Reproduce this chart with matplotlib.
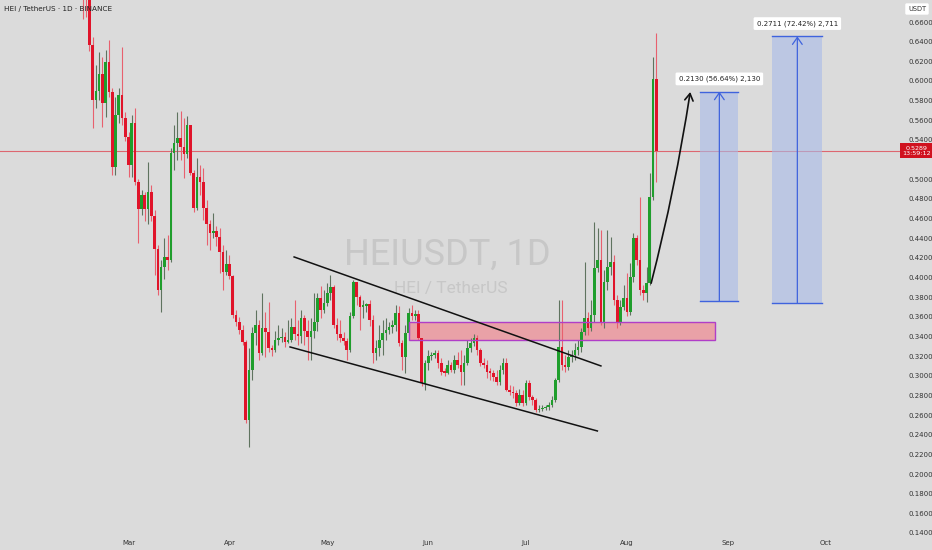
import numpy as np
import pandas as pd
import matplotlib
matplotlib.use('Agg')
import matplotlib.pyplot as plt
import matplotlib.dates as mdates
from matplotlib.patches import Rectangle, FancyArrowPatch

# daily candles HEI/USDT, Feb 15 - Aug 10 2025
first_open = 0.750
closes = [0.720, 0.700, 0.637, 0.581, 0.590, 0.607, 0.578, 0.619, 0.589, 0.512,
          0.565, 0.586, 0.562, 0.543, 0.514, 0.557, 0.497, 0.470, 0.484, 0.470,
          0.487, 0.463, 0.429, 0.387, 0.411, 0.421, 0.418, 0.527, 0.537, 0.542,
          0.533, 0.526, 0.555, 0.506, 0.471, 0.502, 0.497, 0.471, 0.454, 0.445,
          0.447, 0.441, 0.426, 0.406, 0.414, 0.402, 0.362, 0.355, 0.347, 0.334,
          0.255, 0.306, 0.344, 0.352, 0.323, 0.349, 0.345, 0.328, 0.326, 0.336,
          0.338, 0.339, 0.334, 0.336, 0.350, 0.342, 0.340, 0.359, 0.346, 0.339,
          0.346, 0.355, 0.379, 0.367, 0.374, 0.384, 0.390, 0.352, 0.342, 0.338,
          0.335, 0.326, 0.361, 0.395, 0.380, 0.370, 0.371, 0.373, 0.357, 0.323,
          0.328, 0.336, 0.344, 0.347, 0.350, 0.352, 0.364, 0.333, 0.319, 0.344,
          0.364, 0.361, 0.363, 0.338, 0.293, 0.313, 0.320, 0.321, 0.323, 0.313,
          0.304, 0.303, 0.311, 0.306, 0.316, 0.311, 0.304, 0.313, 0.328, 0.333,
          0.338, 0.326, 0.313, 0.311, 0.304, 0.303, 0.299, 0.294, 0.306, 0.313,
          0.286, 0.283, 0.282, 0.272, 0.280, 0.272, 0.293, 0.278, 0.275, 0.265,
          0.266, 0.267, 0.268, 0.270, 0.275, 0.296, 0.329, 0.311, 0.309, 0.319,
          0.321, 0.326, 0.329, 0.345, 0.359, 0.349, 0.362, 0.410, 0.418, 0.355,
          0.395, 0.411, 0.416, 0.377, 0.355, 0.370, 0.379, 0.365, 0.400, 0.440,
          0.418, 0.387, 0.384, 0.394, 0.482, 0.602, 0.5289]
highs = [0.800, 0.760, 0.730, 0.645, 0.616, 0.629, 0.624, 0.632, 0.642, 0.593,
         0.584, 0.593, 0.635, 0.568, 0.548, 0.565, 0.572, 0.500, 0.489, 0.487,
         0.5175, 0.494, 0.469, 0.433, 0.418, 0.440, 0.443, 0.532, 0.555, 0.568,
         0.569, 0.562, 0.564, 0.555, 0.509, 0.522, 0.514, 0.511, 0.479, 0.458,
         0.466, 0.452, 0.450, 0.433, 0.428, 0.423, 0.403, 0.367, 0.360, 0.352,
         0.336, 0.328, 0.350, 0.367, 0.357, 0.384, 0.365, 0.375, 0.331, 0.346,
         0.352, 0.349, 0.345, 0.357, 0.359, 0.377, 0.357, 0.367, 0.362, 0.357,
         0.359, 0.384, 0.384, 0.391, 0.387, 0.394, 0.403, 0.392, 0.359, 0.357,
         0.345, 0.338, 0.365, 0.397, 0.394, 0.382, 0.377, 0.374, 0.377, 0.362,
         0.336, 0.352, 0.357, 0.359, 0.355, 0.357, 0.372, 0.371, 0.336, 0.352,
         0.369, 0.372, 0.367, 0.367, 0.338, 0.316, 0.326, 0.324, 0.326, 0.326,
         0.318, 0.308, 0.316, 0.314, 0.321, 0.324, 0.326, 0.321, 0.336, 0.338,
         0.343, 0.341, 0.328, 0.318, 0.316, 0.308, 0.306, 0.306, 0.311, 0.318,
         0.318, 0.291, 0.290, 0.286, 0.287, 0.286, 0.296, 0.296, 0.280, 0.277,
         0.270, 0.270, 0.270, 0.273, 0.279, 0.298, 0.377, 0.377, 0.321, 0.326,
         0.326, 0.333, 0.336, 0.349, 0.416, 0.365, 0.377, 0.456, 0.450, 0.448,
         0.408, 0.448, 0.441, 0.423, 0.382, 0.377, 0.392, 0.405, 0.415, 0.445,
         0.443, 0.482, 0.392, 0.411, 0.506, 0.624, 0.649]
lows = [0.663, 0.665, 0.630, 0.552, 0.572, 0.581, 0.553, 0.563, 0.584, 0.504,
        0.504, 0.557, 0.555, 0.539, 0.502, 0.502, 0.494, 0.435, 0.464, 0.457,
        0.454, 0.457, 0.4026, 0.382, 0.365, 0.398, 0.408, 0.416, 0.509, 0.520,
        0.520, 0.501, 0.522, 0.504, 0.467, 0.469, 0.484, 0.459, 0.433, 0.428,
        0.440, 0.432, 0.405, 0.387, 0.403, 0.398, 0.359, 0.351, 0.342, 0.331,
        0.252, 0.2275, 0.296, 0.331, 0.316, 0.321, 0.319, 0.324, 0.320, 0.324,
        0.331, 0.334, 0.329, 0.333, 0.334, 0.336, 0.331, 0.333, 0.331, 0.316,
        0.316, 0.338, 0.346, 0.359, 0.364, 0.371, 0.377, 0.349, 0.336, 0.334,
        0.331, 0.3164, 0.324, 0.359, 0.372, 0.347, 0.359, 0.365, 0.351, 0.313,
        0.316, 0.320, 0.321, 0.336, 0.343, 0.344, 0.346, 0.330, 0.306, 0.303,
        0.341, 0.357, 0.357, 0.336, 0.290, 0.285, 0.306, 0.316, 0.318, 0.308,
        0.301, 0.300, 0.302, 0.304, 0.303, 0.308, 0.2906, 0.2906, 0.311, 0.324,
        0.330, 0.321, 0.310, 0.308, 0.298, 0.296, 0.295, 0.291, 0.291, 0.302,
        0.284, 0.280, 0.277, 0.269, 0.270, 0.269, 0.270, 0.275, 0.270, 0.263,
        0.263, 0.264, 0.265, 0.265, 0.268, 0.273, 0.294, 0.306, 0.304, 0.306,
        0.314, 0.316, 0.321, 0.324, 0.341, 0.341, 0.346, 0.355, 0.406, 0.352,
        0.349, 0.387, 0.403, 0.372, 0.349, 0.352, 0.367, 0.361, 0.362, 0.395,
        0.413, 0.382, 0.377, 0.375, 0.392, 0.479, 0.497]
dates = pd.date_range('2025-02-15', periods=len(closes), freq='D')
opens = [first_open] + closes[:-1]

last_price = 0.5289
countdown = '13:59:12'

# drawings on the chart
zone_dates = ['2025-05-26 00:00', '2025-08-28 00:00']
zone_prices = [0.3364, 0.3547]
upper_line_dates = ['2025-04-20 20:00', '2025-07-24 00:00']
upper_line_prices = [0.4209, 0.3100]
lower_line_dates = ['2025-04-19 14:00', '2025-07-22 22:00']
lower_line_prices = [0.3293, 0.2438]
arrow_dates = ['2025-08-08 10:00', '2025-08-20 10:00']
arrow_prices = [0.3942, 0.5888]
targets = [
    {'start': '2025-08-23 12:00', 'end': '2025-09-04 05:00', 'low': 0.3761, 'high': 0.5891,
     'label': '0.2130 (56.64%) 2,130'},
    {'start': '2025-09-14 14:00', 'end': '2025-09-30 00:00', 'low': 0.3743, 'high': 0.6454,
     'label': '0.2711 (72.42%) 2,711'},
]

price_ticks = np.arange(0.14, 0.661, 0.02)
month_ticks = pd.date_range('2025-03-01', '2025-10-01', freq='MS')

bg = '#dbdbdb'
up_col, dn_col = '#1f9e2c', '#e0142a'
up_wick, dn_wick = '#5f735f', '#e8606e'


def dnum(s):
    return mdates.date2num(pd.Timestamp(s))


fig = plt.figure(figsize=(9.32, 5.5), dpi=100, facecolor=bg)
ax = fig.add_axes([0, 13 / 550, 900 / 932, 537 / 550], facecolor=bg)

xd = mdates.date2num(dates)
o = np.array(opens); c = np.array(closes)
h = np.array(highs); l = np.array(lows)
up = c >= o
ax.vlines(xd[up], l[up], h[up], color=up_wick, lw=0.8, zorder=3)
ax.vlines(xd[~up], l[~up], h[~up], color=dn_wick, lw=0.8, zorder=3)
body_lo = np.minimum(o, c)
body_h = np.maximum(np.abs(c - o), 0.0015)
ax.bar(xd, body_h, bottom=body_lo, width=0.8,
       color=np.where(up, up_col, dn_col), lw=0, zorder=4)

# watermark
ax.text(dnum('2025-06-07 00:00'), 0.4235, 'HEIUSDT, 1D', ha='center', va='center',
        fontsize=26, color='#c7c7c7', family='Roboto', zorder=1)
ax.text(dnum('2025-06-07 20:00'), 0.3885, 'HEI / TetherUS', ha='center',
        va='center', fontsize=12.5, color='#c7c7c7', family='Roboto', zorder=1)

# zone
zx = [dnum(s) for s in zone_dates]
ax.add_patch(Rectangle((zx[0], zone_prices[0]), zx[1] - zx[0], zone_prices[1] - zone_prices[0],
                       facecolor='#ee8e96', alpha=0.75, edgecolor='none', zorder=2))
ax.add_patch(Rectangle((zx[0], zone_prices[0]), zx[1] - zx[0], zone_prices[1] - zone_prices[0],
                       facecolor='none', edgecolor='#b03ec8', lw=1.0, zorder=5))

# wedge lines
ax.plot([dnum(s) for s in upper_line_dates], upper_line_prices, color='#111111', lw=1.1, zorder=6)
ax.plot([dnum(s) for s in lower_line_dates], lower_line_prices, color='#111111', lw=1.1, zorder=6)

# last price line
ax.axhline(last_price, color='#de4a55', lw=0.8, alpha=0.8, zorder=2)

# projection arrow
ap = [dnum(s) for s in arrow_dates]
ax.add_patch(FancyArrowPatch((ap[0], arrow_prices[0]), (ap[1], arrow_prices[1]),
                             arrowstyle='->,head_length=5,head_width=3', color='#111111', lw=1.2,
                             connectionstyle='arc3,rad=0.025', shrinkA=0, shrinkB=0, zorder=7))

# target boxes
for t in targets:
    x0 = dnum(t['start'])
    x1 = dnum(t['end'])
    ax.add_patch(Rectangle((x0, t['low']), x1 - x0, t['high'] - t['low'],
                           facecolor='#a8bbe9', alpha=0.6, edgecolor='none', zorder=2))
    ax.plot([x0, x1], [t['low'], t['low']], color='#3f63dd', lw=1.0, zorder=5)
    ax.plot([x0, x1], [t['high'], t['high']], color='#3f63dd', lw=1.0, zorder=5)
    xm = (x0 + x1) / 2
    ax.add_patch(FancyArrowPatch((xm, t['low']), (xm, t['high']),
                                 arrowstyle='->,head_length=5,head_width=3.5', color='#3f63dd',
                                 lw=0.9, shrinkA=0, shrinkB=0, zorder=5))
    ax.text(xm, t['high'] + 0.013, t['label'], ha='center', va='center', fontsize=5, color='#222222',
            zorder=8, bbox=dict(boxstyle='round,pad=0.45,rounding_size=0.2', fc='white', ec='none'))

ax.set_xlim(dnum('2025-03-01 00:00') - 128.5 / 3.258,
            dnum('2025-03-01 00:00') + (900 - 128.5) / 3.258)
ax.set_ylim(0.1359, 0.6824)

ax.yaxis.tick_right()
ax.set_yticks(price_ticks)
ax.set_yticklabels(['' if abs(p - 0.52) < 1e-6 else f'{p:.4f}' for p in price_ticks])
ax.tick_params(axis='y', length=0, pad=6, labelsize=5, labelcolor='#333333')
ax.set_xticks(mdates.date2num(month_ticks))
ax.set_xticklabels([d.strftime('%b') for d in month_ticks])
ax.tick_params(axis='x', length=0, pad=2, labelsize=5, labelcolor='#333333')
for s in ax.spines.values():
    s.set_visible(False)

# price tag and header
ax.text(1.0 + 17 / 900, last_price, f'{last_price:.4f}\n{countdown}', transform=ax.get_yaxis_transform(),
        ha='center', va='center', fontsize=4.6, color='white', linespacing=1.1, zorder=9,
        bbox=dict(boxstyle='square,pad=0.35', fc='#d0121f', ec='none'), clip_on=False)
fig.text(917 / 932, 1 - 9 / 550, 'USDT', ha='center', va='center', fontsize=4.8, color='#333333',
         bbox=dict(boxstyle='round,pad=0.4,rounding_size=0.2', fc='white', ec='none'))
fig.text(4 / 932, 1 - 9 / 550, 'HEI / TetherUS · 1D · BINANCE', ha='left', va='center',
         fontsize=5.2, color='#222222')

fig.savefig('out.png', dpi=100, facecolor=bg)
